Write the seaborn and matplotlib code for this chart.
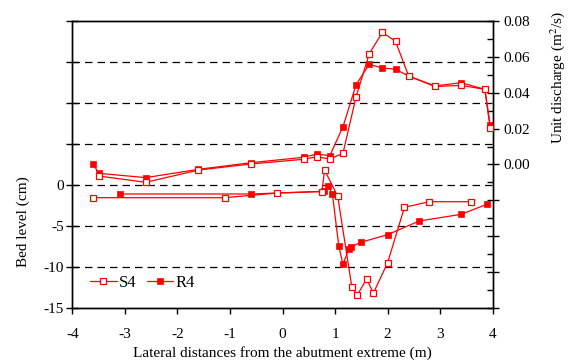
import matplotlib
matplotlib.use("Agg")
import matplotlib.pyplot as plt
import seaborn as sns
import pandas as pd
import numpy as np
from matplotlib.ticker import FixedLocator, FixedFormatter, MultipleLocator

# ---- data ----
s4_q_x = [-3.5, -2.6, -1.6, -0.6, 0.4, 0.65, 0.9, 1.15, 1.4, 1.65, 1.9, 2.15, 2.4, 2.9, 3.4, 3.85, 3.95]
s4_q_y = [-0.0064, -0.0099, -0.0031, 0.0003, 0.0029, 0.0043, 0.0031, 0.0062, 0.0377, 0.0616,
          0.0735, 0.0685, 0.0492, 0.0434, 0.0440, 0.0418, 0.0205]
r4_q_x = [-3.6, -3.5, -2.6, -1.6, -0.6, 0.4, 0.65, 0.9, 1.15, 1.4, 1.65, 1.9, 2.15, 2.4, 2.9, 3.4, 3.85, 3.95]
r4_q_y = [0.0003, -0.0049, -0.0073, -0.0027, 0.0010, 0.0040, 0.0058, 0.0049, 0.0210, 0.0444,
          0.0557, 0.0537, 0.0530, 0.0492, 0.0437, 0.0455, 0.0418, 0.0220]

s4_z_x = [-3.6, -1.1, -0.1, 0.75, 0.8, 1.05, 1.32, 1.42, 1.6, 1.73, 2.0, 2.32, 2.79, 3.59]
s4_z_y = [-1.54, -1.54, -0.97, -0.8, 1.83, -1.37, -12.45, -13.42, -11.43, -13.14, -9.45, -2.71, -2.03, -2.03]
r4_z_x = [-3.1, -0.6, 0.78, 0.87, 0.95, 1.07, 1.15, 1.26, 1.30, 1.49, 2.0, 2.6, 3.4, 3.9]
r4_z_y = [-1.09, -1.09, -0.76, -0.12, -1.13, -7.38, -9.65, -7.82, -7.54, -6.97, -6.04, -4.38, -3.56, -2.31]

x_ticks = [-4, -3, -2, -1, 0, 1, 2, 3, 4]
left_ticks = [-15, -10, -5, 0, 5, 10, 15, 20]
left_labels = ["-15", "-10", "-5", "0", "", "", "", ""]
right_ticks = [-0.08, -0.06, -0.04, -0.02, 0.0, 0.02, 0.04, 0.06, 0.08]
right_labels = ["", "", "", "", "0.00", "0.02", "0.04", "0.06", "0.08"]
grid_levels = [15, 10, 5, 0, -5, -10]

sns.set_theme(style="white")
plt.rcParams['font.family'] = ['Liberation Serif', 'DejaVu Serif']
plt.rcParams['mathtext.fontset'] = 'stix'
for k in ['text.color', 'axes.labelcolor', 'xtick.color', 'ytick.color', 'axes.edgecolor']:
    plt.rcParams[k] = 'black'
FS = 11

fig = plt.figure(figsize=(5.69, 3.63), dpi=100)
ax = fig.add_axes([0.127, 0.1507, 0.739, 0.7923])
ax2 = ax.twinx()

red = "#FF0000"
open_kw = dict(marker="s", markersize=4.2, markerfacecolor="white", markeredgecolor=red,
               markeredgewidth=0.9, color=red, linewidth=0.9)
fill_kw = dict(marker="s", markersize=5.0, markerfacecolor=red, markeredgecolor=red,
               markeredgewidth=0.5, color=red, linewidth=0.9)

for lv in grid_levels:
    ax.axhline(lv, color="black", linestyle=(0, (6, 4)), linewidth=0.9, zorder=1)

df_s4z = pd.DataFrame({"x": s4_z_x, "y": s4_z_y})
df_r4z = pd.DataFrame({"x": r4_z_x, "y": r4_z_y})
df_s4q = pd.DataFrame({"x": s4_q_x, "y": s4_q_y})
df_r4q = pd.DataFrame({"x": r4_q_x, "y": r4_q_y})

sns.lineplot(data=df_s4z, x="x", y="y", ax=ax, sort=False, estimator=None, zorder=3, **open_kw)
sns.lineplot(data=df_r4z, x="x", y="y", ax=ax, sort=False, estimator=None, zorder=2, **fill_kw)
sns.lineplot(data=df_r4q, x="x", y="y", ax=ax2, sort=False, estimator=None, zorder=2, **fill_kw)
sns.lineplot(data=df_s4q, x="x", y="y", ax=ax2, sort=False, estimator=None, zorder=3, **open_kw)

ax.set_xlim(-4, 4)
ax.set_ylim(-15, 20)
ax2.set_ylim(-0.08, 0.08)

ax.xaxis.set_major_locator(FixedLocator(x_ticks))
ax.set_xticklabels([str(t) for t in x_ticks])
ax.yaxis.set_major_locator(FixedLocator(left_ticks))
ax.yaxis.set_major_formatter(FixedFormatter(left_labels))
ax2.yaxis.set_major_locator(FixedLocator(right_ticks))
ax2.yaxis.set_major_formatter(FixedFormatter(right_labels))
ax2.yaxis.set_minor_locator(MultipleLocator(0.01))

for a in (ax, ax2):
    for s in a.spines.values():
        s.set_color("black")
        s.set_linewidth(1.0)

ax.tick_params(axis="x", direction="out", length=4, width=1, colors="black", labelsize=FS, bottom=True, pad=10.5)
ax.tick_params(axis="y", direction="inout", length=8, width=1, colors="black", labelsize=FS, left=True, pad=2)
ax2.tick_params(axis="y", which="major", direction="inout", length=8, width=1, colors="black", labelsize=FS, right=True, pad=4)
ax2.tick_params(axis="y", which="minor", direction="in", length=4, width=1, colors="black", right=True)

ax.set_xlabel("Lateral distances from the abutment extreme (m)", fontsize=FS, labelpad=3)
ax.set_ylabel("Bed level (cm)", fontsize=FS)
ax2.set_ylabel("Unit discharge (m$^2$/s)", fontsize=FS)
ax.yaxis.set_label_coords(-0.10, 0.30)
ax2.yaxis.set_label_coords(1.131, 0.804)

h1 = plt.Line2D([], [], **open_kw)
h2 = plt.Line2D([], [], **fill_kw)
leg = ax.legend([h1, h2], ["S4", "R4"], loc="center left", bbox_to_anchor=(0.042, 0.088), ncol=2,
                frameon=False, fontsize=FS + 1, handlelength=1.6, columnspacing=0.6,
                handletextpad=0.15, borderpad=0, borderaxespad=0)
for t in leg.get_texts():
    t.set_color("black")

fig.savefig("out.png", dpi=100)
